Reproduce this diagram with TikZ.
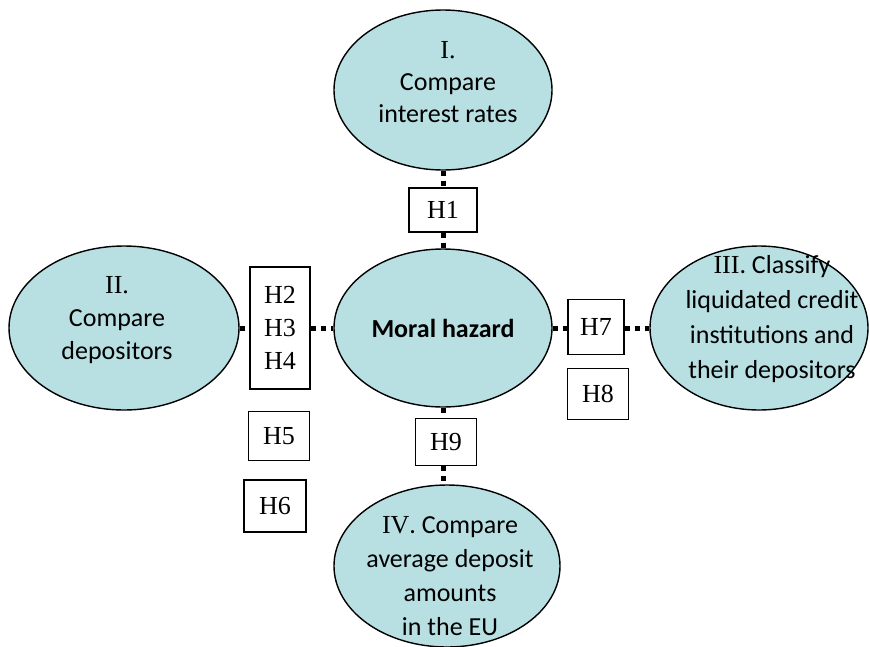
\documentclass[tikz,border=0pt]{standalone}
\usepackage{fontspec}
\setmainfont{Carlito}
\newfontfamily\tms{Liberation Serif}
\usetikzlibrary{shapes.geometric}
\definecolor{ellfill}{RGB}{184,223,226}
\tikzset{
 ell/.style={ellipse, draw=black, line width=1.4pt, fill=ellfill, inner sep=0pt},
 hbox/.style={rectangle, draw=black, line width=1.3pt, fill=white, inner sep=0pt, font=\tms\fontsize{26}{33}\selectfont, align=center},
 txt/.style={align=center, font=\fontsize{26}{33}\selectfont, inner sep=0pt},
 dots/.style={line width=5pt, dash pattern=on 5pt off 5pt},
}
\begin{document}
\begin{tikzpicture}[x=1pt,y=-1pt]
\useasboundingbox (0,0) rectangle (870,646);
% ellipses
\node[ell, minimum width=218pt, minimum height=160pt] (I) at (443,90) {};
\node[txt, font=\fontsize{26}{32}\selectfont] (Itxt) at (448,82) {{\tms I.}\\Compare\\interest rates};
\node[ell, minimum width=218pt, minimum height=158pt, font=\bfseries\fontsize{26}{33}\selectfont] (M) at (443,328) {Moral hazard};
\node[ell, minimum width=230pt, minimum height=164pt] (II) at (124,328) {};
\node[txt] (IItxt) at (117,320) {{\tms II.}\\Compare\\depositors};
\node[ell, minimum width=218pt, minimum height=164pt] (III) at (759,328) {};
\node[txt, font=\fontsize{26}{35}\selectfont] (IIItxt) at (772,319) {{\tms III}. Classify\\liquidated credit\\institutions and\\their depositors};
\node[ell, minimum width=226pt, minimum height=162pt] (IV) at (447,566) {};
\node[txt, font=\fontsize{26}{34}\selectfont] (IVtxt) at (450,576) {{\tms IV}. Compare\\average deposit\\amounts\\in the EU};
% boxes
\node[hbox, minimum width=68pt, minimum height=44pt] (H1) at (443,210) {H1};
\node[hbox, minimum width=60pt, minimum height=122pt] (H234) at (280,328) {H2\\H3\\H4};
\node[hbox, minimum width=61pt, minimum height=49pt] (H5) at (279,436) {H5};
\node[hbox, minimum width=62pt, minimum height=52pt] (H6) at (275,506) {H6};
\node[hbox, minimum width=56pt, minimum height=55pt] (H7) at (596,327) {H7};
\node[hbox, minimum width=61pt, minimum height=51pt] (H8) at (598,394) {H8};
\node[hbox, minimum width=61pt, minimum height=47pt] (H9) at (446,442) {H9};
% connectors
\draw[dots] (I.south) -- (H1.north);
\draw[dots] (H1.south) -- (M.north);
\draw[dots] (II.east) -- (H234.west);
\draw[dots] (H234.east) -- (M.west);
\draw[dots] (M.east) -- (M.east -| H7.west);
\draw[dots] (M.east -| H7.east) -- (M.east -| III.west);
\draw[dots] (M.south) -- (M.south |- H9.north);
\draw[dots] (M.south |- H9.south) -- (M.south |- IV.north);
\end{tikzpicture}
\end{document}
